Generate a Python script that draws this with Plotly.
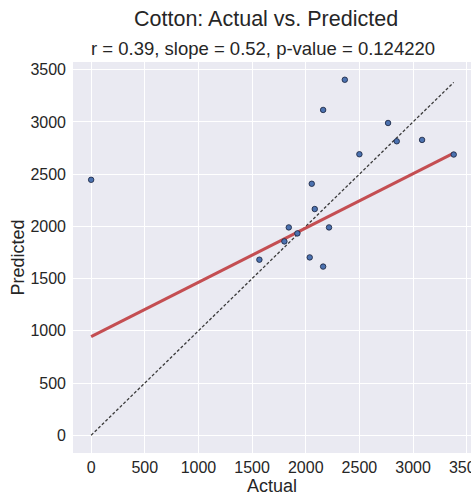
import numpy as np
import plotly.graph_objects as go

# Cotton yield: observed vs. model output (17 samples)
actual = [0, 2364, 2162, 2767, 2848, 3084, 2500, 3379, 2056, 2084,
          1842, 2217, 1922, 1801, 1568, 2037, 2162]
predicted = [2446, 3404, 3115, 2990, 2815, 2828, 2691, 2688, 2408, 2166,
             1990, 1990, 1933, 1856, 1681, 1703, 1615]

# Reported fit statistics
r_value = 0.39
slope = 0.52
intercept = 945
p_value = 0.124220

tick_vals = [0, 500, 1000, 1500, 2000, 2500, 3000, 3500]

x_lo, x_hi = min(actual), max(actual)
fit_x = np.array([x_lo, x_hi])
fit_y = intercept + slope * fit_x

FONT = "Liberation Sans, Arial, sans-serif"
TXT = "#262626"

fig = go.Figure()

# 1:1 reference line
fig.add_trace(go.Scatter(
    x=[x_lo, x_hi], y=[x_lo, x_hi], mode="lines",
    line=dict(color="#3a3a3a", width=1.3, dash="3px,2px"),
    hoverinfo="skip", showlegend=False))

# regression line
fig.add_trace(go.Scatter(
    x=fit_x, y=fit_y, mode="lines",
    line=dict(color="#C44E52", width=3),
    hoverinfo="skip", showlegend=False))

fig.add_trace(go.Scatter(
    x=actual, y=predicted, mode="markers",
    marker=dict(size=5.5, color="#4C72B0",
                line=dict(color="#15203a", width=0.8)),
    showlegend=False))

axis_common = dict(
    showgrid=True, gridcolor="white", gridwidth=1,
    zeroline=False, showline=False, ticks="",
    tickfont=dict(family=FONT, size=16, color=TXT),
    tickvals=tick_vals, ticktext=[str(v) for v in tick_vals],
    ticklabeloverflow="allow",
)

fig.update_layout(
    width=471, height=497,
    margin=dict(l=73, r=0, t=62, b=44, autoexpand=False),
    paper_bgcolor="white", plot_bgcolor="#EAEAF2",
    font=dict(family=FONT, color=TXT),
    xaxis=dict(range=[-169, 3540], automargin=False,
               title=dict(text="Actual", font=dict(size=18, family=FONT, color=TXT), standoff=4),
               ticklabelstandoff=3, **axis_common),
    yaxis=dict(range=[-170, 3574], automargin=False,
               title=dict(text="Predicted", font=dict(size=18, family=FONT, color=TXT), standoff=1),
               ticklabelstandoff=6, **axis_common),
    annotations=[
        dict(text="Cotton: Actual vs. Predicted", xref="paper", yref="paper",
             x=(266 - 73) / 398, y=1 + (62 - 19) / 391, xanchor="center", yanchor="middle",
             showarrow=False, font=dict(size=21.5, family=FONT, color=TXT)),
        dict(text=f"r = {r_value:.2f}, slope = {slope:.2f}, p-value = {p_value:.6f}",
             xref="paper", yref="paper",
             x=(263 - 73) / 398, y=1 + (62 - 48) / 391, xanchor="center", yanchor="middle",
             showarrow=False, font=dict(size=18.5, family=FONT, color=TXT)),
    ],
)

fig.write_html("out.html")
